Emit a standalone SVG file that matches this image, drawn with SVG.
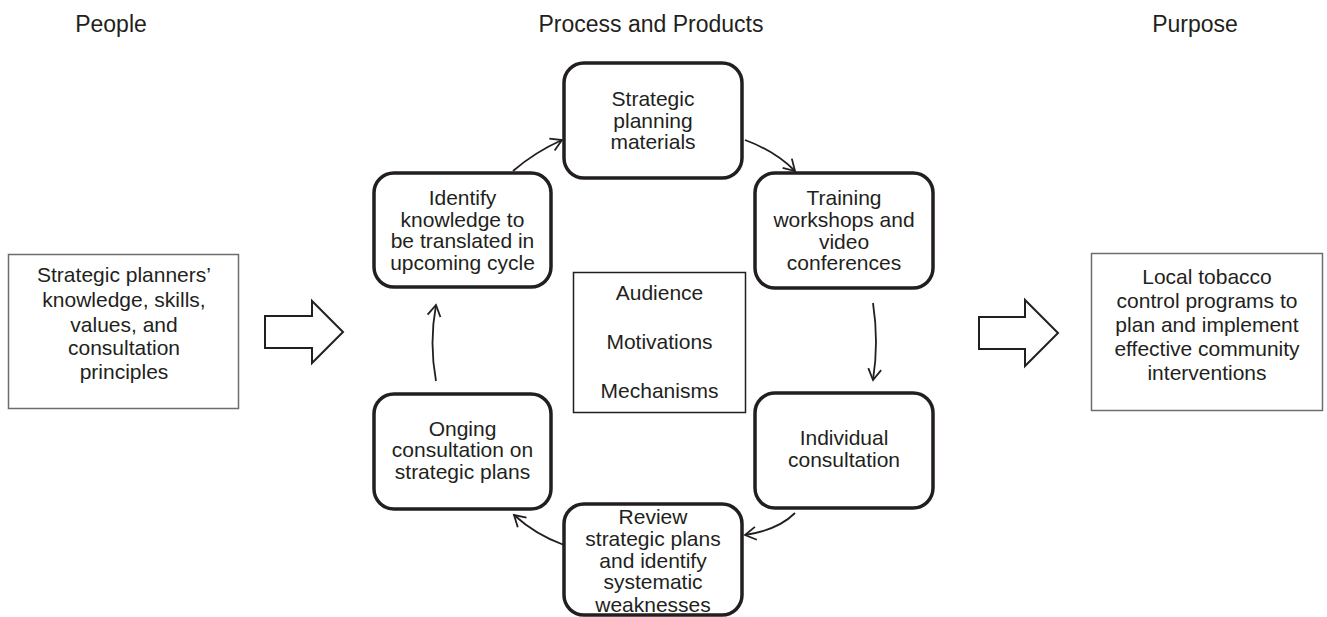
<svg xmlns="http://www.w3.org/2000/svg" width="1327" height="617" viewBox="0 0 1327 617">
  <style>
    text { font-family: "Liberation Sans", Arial, sans-serif; fill: #231f20; text-anchor: middle; }
    .hdr { font-size: 23px; }
    .lbl { font-size: 21px; }
    .step { fill: #ffffff; stroke: #231f20; stroke-width: 3.5; }
    .side { fill: #ffffff; stroke: #6d6d6d; stroke-width: 1.5; }
    .center { fill: #ffffff; stroke: #231f20; stroke-width: 1.5; }
    .block { fill: #ffffff; stroke: #231f20; stroke-width: 2; stroke-linejoin: miter; }
    .conn { fill: none; stroke: #231f20; stroke-width: 1.8; marker-end: url(#open); }
  </style>
  <defs>
    <marker id="open" markerUnits="userSpaceOnUse" markerWidth="20" markerHeight="20" viewBox="-12 -10 14 20" refX="0" refY="0" orient="auto">
      <path d="M-11,-6.5 L0,0 L-11,6.5" fill="none" stroke="#231f20" stroke-width="1.8"/>
    </marker>
  </defs>

  <rect width="1327" height="617" fill="#ffffff"/>

  <!-- column headings -->
  <g id="headings">
    <text class="hdr" x="111" y="32">People</text>
    <text class="hdr" x="651" y="32">Process and Products</text>
    <text class="hdr" x="1195" y="32">Purpose</text>
  </g>

  <!-- inputs -->
  <g id="people">
    <rect class="side" x="8.5" y="254.5" width="230" height="154"/>
    <text class="lbl" x="124" y="282">Strategic planners’</text>
    <text class="lbl" x="124" y="307">knowledge, skills,</text>
    <text class="lbl" x="124" y="332">values, and</text>
    <text class="lbl" x="124" y="355">consultation</text>
    <text class="lbl" x="124" y="379">principles</text>
  </g>

  <!-- outcome -->
  <g id="purpose">
    <rect class="side" x="1091.5" y="253.5" width="231" height="157"/>
    <text class="lbl" x="1207" y="284">Local tobacco</text>
    <text class="lbl" x="1207" y="308">control programs to</text>
    <text class="lbl" x="1207" y="332">plan and implement</text>
    <text class="lbl" x="1207" y="356">effective community</text>
    <text class="lbl" x="1207" y="380">interventions</text>
  </g>

  <!-- cycle steps -->
  <g id="materials">
    <rect class="step" x="564" y="63" width="178" height="115" rx="20"/>
    <text class="lbl" x="653" y="106">Strategic</text>
    <text class="lbl" x="653" y="128">planning</text>
    <text class="lbl" x="653" y="149">materials</text>
  </g>
  <g id="training">
    <rect class="step" x="755" y="173" width="178" height="115" rx="20"/>
    <text class="lbl" x="844" y="205">Training</text>
    <text class="lbl" x="844" y="227">workshops and</text>
    <text class="lbl" x="844" y="249">video</text>
    <text class="lbl" x="844" y="270">conferences</text>
  </g>
  <g id="individual">
    <rect class="step" x="755" y="393" width="178" height="115" rx="20"/>
    <text class="lbl" x="844" y="445">Individual</text>
    <text class="lbl" x="844" y="467">consultation</text>
  </g>
  <g id="review">
    <rect class="step" x="564" y="504" width="178" height="111" rx="20"/>
    <text class="lbl" x="653" y="524">Review</text>
    <text class="lbl" x="653" y="546">strategic plans</text>
    <text class="lbl" x="653" y="568">and identify</text>
    <text class="lbl" x="653" y="589">systematic</text>
    <text class="lbl" x="653" y="612">weaknesses</text>
  </g>
  <g id="ongoing">
    <rect class="step" x="374" y="394" width="177" height="115" rx="20"/>
    <text class="lbl" x="462.5" y="436">Onging</text>
    <text class="lbl" x="462.5" y="457">consultation on</text>
    <text class="lbl" x="462.5" y="479">strategic plans</text>
  </g>
  <g id="identify">
    <rect class="step" x="374" y="173" width="177" height="114" rx="20"/>
    <text class="lbl" x="462.5" y="205">Identify</text>
    <text class="lbl" x="462.5" y="227">knowledge to</text>
    <text class="lbl" x="462.5" y="248">be translated in</text>
    <text class="lbl" x="462.5" y="270">upcoming cycle</text>
  </g>

  <!-- centre box -->
  <g id="focus">
    <rect class="center" x="573.5" y="272.5" width="172" height="140"/>
    <text class="lbl" x="659.5" y="300">Audience</text>
    <text class="lbl" x="659.5" y="349">Motivations</text>
    <text class="lbl" x="659.5" y="398">Mechanisms</text>
  </g>

  <!-- block arrows -->
  <g id="flow-arrows">
    <polygon class="block" points="265,316 312,316 312,301 343,332 312,363 312,348 265,348"/>
    <polygon class="block" points="979,317 1025,317 1025,300 1058,333 1025,366 1025,349 979,349"/>
  </g>

  <!-- cycle connectors -->
  <g id="connectors">
    <path class="conn" d="M513,171 Q535,152 562,140"/>
    <path class="conn" d="M745,140 Q775,151 795,171"/>
    <path class="conn" d="M873,303 Q879,342 873,380"/>
    <path class="conn" d="M795,513 Q778,530 745,535"/>
    <path class="conn" d="M564,545 Q536,535 514,515"/>
    <path class="conn" d="M436,381 Q429,343 436,305"/>
  </g>
</svg>
